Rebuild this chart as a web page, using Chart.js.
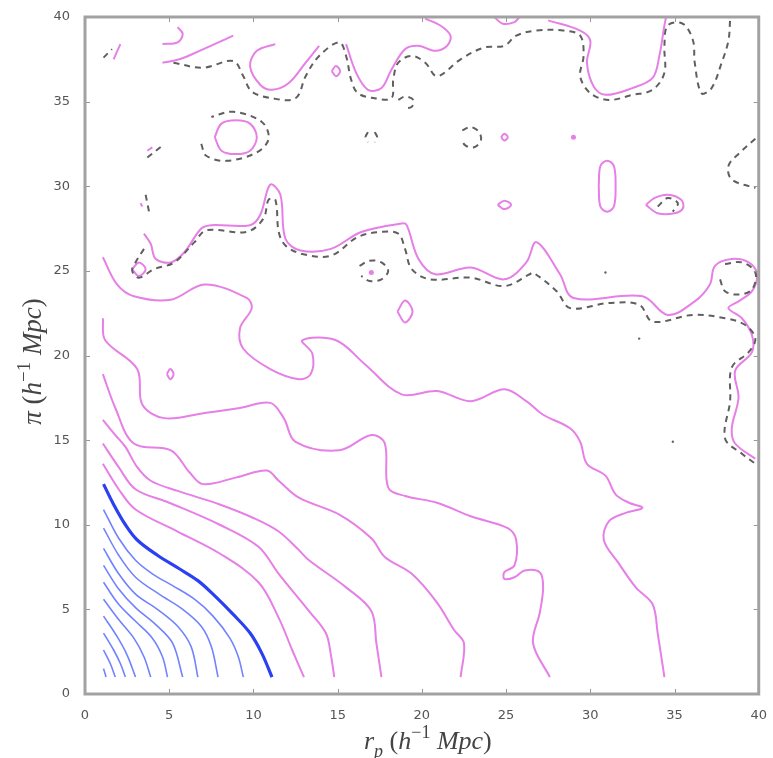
<!DOCTYPE html>
<html>
<head>
<meta charset="utf-8">
<script src="https://cdn.jsdelivr.net/npm/chart.js@4.4.1/dist/chart.umd.min.js"></script>
<style>
  html, body { margin: 0; padding: 0; background: #fff; }
  #wrap { width: 773px; height: 758px; }
</style>
</head>
<body>
<div id="wrap"><canvas id="contour"></canvas></div>
<script>
// axis ticks
const tickValues = [0, 5, 10, 15, 20, 25, 30, 35, 40];

// blue contours (inner levels), [r_p, pi]
const blueBold = [[1.1,12.4],[1.7,11.2],[2.4,10.0],[3.1,9.1],[4.3,8.2],[5.6,7.4],[6.7,6.7],[7.6,5.9],[8.8,4.7],[9.8,3.6],[10.5,2.4],[11.1,1.0]];
const blue2 = [[1.1,10.9],[2.0,9.2],[3.0,7.9],[4.0,7.1],[5.2,6.4],[6.5,5.6],[7.6,4.6],[8.6,3.3],[9.1,2.2],[9.4,1.0]];
const blue3 = [[1.1,9.8],[2.0,8.2],[3.0,6.9],[4.4,5.9],[5.8,5.0],[6.9,4.0],[7.5,2.8],[7.9,1.0]];
const blue4 = [[1.1,8.6],[2.0,7.1],[3.0,5.9],[4.3,5.0],[5.5,4.0],[6.3,2.8],[6.7,1.0]];
const blue5 = [[1.1,7.6],[2.0,6.2],[3.0,5.1],[4.2,4.1],[5.2,3.0],[5.8,1.0]];
const blue6 = [[1.1,6.6],[2.0,5.3],[3.0,4.3],[4.0,3.3],[4.6,2.2],[4.9,1.0]];
const blue7 = [[1.1,5.6],[2.0,4.4],[2.9,3.3],[3.5,2.2],[3.9,1.0]];
const blue8 = [[1.1,4.6],[1.9,3.4],[2.5,2.3],[3.0,1.0]];
const blue9 = [[1.1,3.6],[1.7,2.6],[2.1,1.8],[2.4,1.0]];
const blue10 = [[1.1,2.6],[1.5,1.8],[1.8,1.0]];
const blue11 = [[1.1,1.5],[1.25,1.0]];

// magenta contours
const magA = [[1.06,25.8],[1.9,24.2],[2.9,23.5],[5.1,23.3],[7.1,24.2],[9.6,23.4],[9.9,22.8],[9.2,21.6],[9.4,20.4],[11.0,19.2],[12.7,18.6],[13.4,18.9],[13.5,20.1],[12.9,20.9],[14.9,20.9],[16.6,19.5],[18.8,17.7],[20.9,17.9],[22.9,17.3],[24.9,18.0],[26.2,17.3],[27.2,16.5],[28.8,15.7],[29.4,14.9],[29.8,13.6],[30.9,12.9],[31.5,11.8],[32.3,11.3],[33.1,11.0],[32.1,10.7],[31.1,10.2],[30.8,9.1],[31.7,7.7],[32.7,6.3],[33.7,5.3],[34.0,3.6],[34.4,1.0]];
const magB = [[1.06,22.2],[1.2,20.9],[3.1,19.2],[3.4,17.1],[4.7,16.3],[7.1,16.6],[9.2,16.9],[11.0,17.2],[11.8,16.3],[12.5,14.9],[15.1,14.4],[17.0,15.3],[17.8,14.8],[18.0,12.2],[19.0,11.7],[20.9,11.3],[22.9,10.5],[25.1,9.8],[25.6,9.1],[25.5,7.6],[24.9,7.2],[24.9,6.8],[25.5,6.9],[26.1,7.3],[27.0,7.2],[27.2,6.3],[27.0,4.8],[26.6,3.0],[27.6,1.0]];
const magC = [[1.06,18.9],[1.8,16.9],[2.9,14.8],[5.1,14.4],[6.2,13.1],[7.0,12.4],[9.0,12.8],[10.8,13.2],[11.5,12.6],[12.7,11.6],[15.1,10.6],[17.0,9.2],[17.8,8.1],[19.4,7.1],[20.9,5.4],[21.9,3.8],[22.5,3.0],[22.3,1.0]];
const magD = [[1.06,16.2],[1.8,15.3],[2.4,14.6],[3.1,13.4],[3.9,12.6],[5.5,12.0],[8.0,11.2],[10.0,10.4],[11.5,9.6],[12.7,8.5],[13.3,7.9],[15.5,6.3],[17.0,4.9],[17.3,3.0],[17.6,1.0]];
const magE = [[1.06,14.8],[2.0,13.4],[3.0,12.1],[5.0,11.3],[8.0,10.0],[10.3,8.7],[11.5,7.1],[13.3,4.9],[14.3,3.6],[14.6,2.3],[14.8,1.0]];
const magF = [[1.06,13.6],[2.0,12.1],[3.0,10.9],[5.5,9.6],[8.0,8.3],[10.3,6.6],[11.5,4.5],[12.3,2.6],[13.0,1.0]];
const magRidge = [[3.5,27.2],[3.9,26.6],[4.2,25.7],[5.1,25.5],[5.9,26.1],[6.9,27.5],[7.5,27.7],[9.8,27.7],[10.4,28.3],[11.0,30.1],[11.6,29.5],[11.9,26.9],[12.8,26.2],[14.6,26.3],[16.4,27.3],[18.8,27.8],[19.1,27.7],[19.8,25.7],[20.8,24.8],[22.9,25.2],[24.9,24.5],[26.2,25.5],[26.8,26.7],[28.2,24.8],[29.0,23.4],[33.1,23.5],[34.6,22.4],[36.2,23.2],[37.1,24.2],[37.4,25.3],[38.4,25.7],[39.4,25.5],[39.9,24.8],[39.6,23.8],[38.8,23.2],[38.2,22.8],[39.0,22.2],[39.6,21.2],[39.6,20.2],[38.6,19.1],[38.8,17.5],[38.4,15.7],[38.6,14.8],[39.8,13.9]];
const magTopTick = [[1.7,37.5],[2.1,38.4]];
const magHook = [[4.6,38.4],[5.5,38.5],[5.8,39.0],[5.5,39.4]];
const magTop2 = [[4.6,37.3],[5.6,37.5],[6.8,38.0],[8.8,38.9]];
const magU1 = [[11.3,38.4],[10.2,38.0],[9.8,37.1],[10.4,36.0],[11.1,35.7],[12.1,36.1],[13.1,37.3],[13.9,38.3]];
const magU2 = [[15.5,38.4],[16.1,36.7],[16.8,35.7],[17.6,35.8],[18.2,36.9],[19.0,38.1],[19.8,38.3],[20.8,38.0],[21.5,38.3],[21.7,38.9],[21.1,39.5],[20.2,39.9]];
const magArc25 = [[24.3,40.0],[24.8,39.6],[25.5,39.7],[25.8,40.0]];
const magU3 = [[27.5,39.8],[29.4,39.2],[30.0,38.6],[29.8,37.3],[30.2,35.9],[30.9,35.4],[32.5,35.8],[33.7,36.4],[34.1,37.7],[34.4,39.5],[34.5,40.0]];
const magLoop15 = [[14.65,36.8],[14.9,37.1],[15.15,36.8],[14.9,36.5],[14.65,36.8]];
const magEll9 = [[7.7,32.9],[8.1,33.7],[8.95,33.9],[9.8,33.7],[10.2,32.9],[9.8,32.1],[8.95,31.9],[8.1,32.1],[7.7,32.9]];
const magCirc3 = [[2.8,25.1],[3.2,25.5],[3.6,25.1],[3.2,24.7],[2.8,25.1]];
const magLoop5 = [[4.86,18.9],[5.06,19.2],[5.26,18.9],[5.06,18.6],[4.86,18.9]];
const magOval19 = [[18.55,22.6],[19.0,23.25],[19.45,22.6],[19.0,21.95],[18.55,22.6]];
const magRing25 = [[24.7,32.9],[24.9,33.1],[25.1,32.9],[24.9,32.7],[24.7,32.9]];
const magVert31 = [[30.5,30.0],[30.6,31.2],[31.0,31.5],[31.4,31.2],[31.5,30.0],[31.4,28.8],[31.0,28.5],[30.6,28.8],[30.5,30.0]];
const magEgg34 = [[33.3,28.9],[33.8,29.3],[34.6,29.5],[35.4,29.2],[35.5,28.7],[35.0,28.4],[34.0,28.4],[33.3,28.9]];
const magSmall25 = [[24.5,28.9],[24.9,29.15],[25.3,28.9],[24.9,28.65],[24.5,28.9]];
const magTick32 = [[3.7,32.1],[4.0,32.3]];
const magTick29 = [[3.3,29.0],[3.4,28.8]];
const magDots = [[17.0,24.9],[29.0,32.9]];

// dashed grey contour (zero level)
const dashTop = [[5.25,37.3],[7.0,37.0],[8.8,37.4],[9.4,36.5],[9.9,35.6],[11.1,35.2],[12.5,35.2],[13.1,36.5],[13.9,37.7],[15.1,38.5],[15.5,37.7],[15.8,36.3],[16.2,35.5],[17.2,35.2],[18.2,35.2],[18.3,36.3],[18.6,37.3],[19.4,37.7],[20.2,37.3],[20.9,36.5],[22.3,37.5],[23.7,38.2],[24.9,38.3],[25.6,38.9],[26.8,39.2],[28.4,39.2],[29.4,38.9],[29.6,37.7],[29.4,36.5],[30.0,35.5],[31.1,35.1],[32.5,35.4],[33.7,35.7],[34.4,36.7],[34.4,38.3],[34.6,39.5],[35.5,39.6],[36.1,38.6],[36.2,37.3],[36.6,35.5],[37.2,35.8],[37.8,37.3],[38.2,38.6],[38.3,39.8]];
const dashRidge = [[3.5,26.3],[3.0,25.5],[2.8,25.0],[3.2,24.6],[4.1,25.1],[5.3,25.5],[6.5,26.7],[7.2,27.4],[9.6,27.3],[10.6,28.1],[10.9,29.2],[11.3,29.2],[11.5,27.3],[11.9,26.5],[12.9,26.0],[14.6,25.9],[16.2,27.0],[17.6,27.3],[18.6,27.2],[19.0,26.3],[19.4,25.1],[20.5,24.5],[22.9,24.6],[24.9,24.1],[26.4,24.8],[26.6,24.9],[28.0,23.8],[28.8,22.8],[31.1,23.1],[32.9,23.0],[33.7,22.0],[36.1,22.4],[38.0,22.2],[39.2,21.8],[39.8,21.0],[39.4,20.2],[38.4,19.3],[38.3,17.3],[38.0,15.1],[39.0,14.2],[39.8,13.6]];
const dashEll9 = [[6.9,32.5],[7.2,31.8],[8.4,31.5],[10.2,32.0],[10.9,32.8],[10.5,33.8],[8.8,34.4],[7.5,34.1]];
const dashTopLeft = [[1.1,37.6],[1.6,38.1]];
const dashLeft32 = [[3.7,31.7],[4.6,32.4]];
const dashLeft29 = [[3.6,29.5],[3.8,28.5]];
const dashLoop17 = [[16.3,25.3],[16.9,25.6],[17.6,25.5],[18.0,25.0],[17.6,24.5],[16.9,24.4],[16.4,24.7]];
const dashCirc23 = [[22.4,33.3],[22.9,33.5],[23.4,33.2],[23.5,32.7],[23.1,32.3],[22.6,32.4],[22.3,32.8]];
const dashLoop19 = [[18.6,35.1],[19.0,35.3],[19.5,35.1],[19.4,34.7],[18.9,34.6]];
const dashParenL = [[16.8,33.2],[16.65,32.9],[16.8,32.6]];
const dashParenR = [[17.2,33.2],[17.35,32.9],[17.2,32.6]];
const dashIn34 = [[34.0,28.8],[34.6,29.3],[35.2,29.0],[34.9,28.5]];
const dashRight32 = [[39.8,32.8],[38.9,32.0],[38.2,31.2],[38.4,30.4],[39.8,29.9]];
const dashCirc38 = [[38.0,25.4],[39.0,25.5],[39.8,24.9],[39.6,23.9],[38.8,23.6],[38.0,23.8],[37.7,24.5]];
const greySpecks = [[34.9,14.9],[32.9,21.0],[30.9,24.9]];

const MAGENTA = '#e67fe6';
const BLUE = '#7183ff';
const BLUE_BOLD = '#2b40f2';
const DASH = '#5f5f5f';

const blueThin = [blue2, blue3, blue4, blue5, blue6, blue7, blue8, blue9, blue10, blue11];
const magentaLines = [magA, magB, magC, magD, magE, magF, magRidge, magTopTick, magHook, magTop2,
  magU1, magU2, magArc25, magU3, magLoop15, magEll9, magCirc3, magLoop5, magOval19, magRing25,
  magVert31, magEgg34, magSmall25, magTick32, magTick29];
const dashedLines = [dashTop, dashRidge, dashEll9, dashTopLeft, dashLeft32, dashLeft29, dashLoop17,
  dashCirc23, dashLoop19, dashParenL, dashParenR, dashIn34, dashRight32, dashCirc38];

function toXY(arr) { return arr.map(p => ({ x: p[0], y: p[1] })); }
function contour(arr, color, width, dash) {
  return {
    data: toXY(arr), showLine: true, borderColor: color, borderWidth: width,
    borderDash: dash || [], pointRadius: 0, tension: 0.35, fill: false
  };
}

const datasets = [];
dashedLines.forEach(d => datasets.push(contour(d, DASH, 2, [6, 5])));
magentaLines.forEach(d => datasets.push(contour(d, MAGENTA, 2)));
blueThin.forEach(d => datasets.push(contour(d, BLUE, 1.6)));
datasets.push(contour(blueBold, BLUE_BOLD, 3.2));
datasets.push({ data: toXY(magDots), showLine: false, pointRadius: 2.5, pointBackgroundColor: MAGENTA, pointBorderWidth: 0 });
datasets.push({ data: toXY(greySpecks), showLine: false, pointRadius: 1.2, pointBackgroundColor: '#666', pointBorderWidth: 0 });

// math-style axis labels with sub/superscripts
function drawMath(ctx, parts, size) {
  const fam = '"Liberation Serif", "DejaVu Serif", serif';
  const fontFor = p => (p.it ? 'italic ' : '') + Math.round(p.sm ? size * 0.7 : size) + 'px ' + fam;
  let w = 0;
  parts.forEach(p => { ctx.font = fontFor(p); w += ctx.measureText(p.t).width; });
  let x = -w / 2;
  ctx.textBaseline = 'alphabetic';
  ctx.textAlign = 'left';
  parts.forEach(p => {
    ctx.font = fontFor(p);
    ctx.fillText(p.t, x, p.dy ? p.dy * size : 0);
    x += ctx.measureText(p.t).width;
  });
}
const xTitle = [{t:'r',it:1},{t:'p',it:1,sm:1,dy:0.3},{t:' ('},{t:'h',it:1},{t:'\u22121',sm:1,dy:-0.42},{t:' '},{t:'Mpc',it:1},{t:')'}];
const yTitle = [{t:'\u03c0',it:1},{t:' ('},{t:'h',it:1},{t:'\u22121',sm:1,dy:-0.42},{t:' '},{t:'Mpc',it:1},{t:')'}];

const framePlugin = {
  id: 'frame',
  afterDraw(chart) {
    const { ctx, chartArea: a, scales: { x, y } } = chart;
    ctx.save();
    ctx.strokeStyle = '#999';
    ctx.lineWidth = 1;
    tickValues.forEach(v => {
      const px = Math.round(x.getPixelForValue(v)) + 0.5;
      const py = Math.round(y.getPixelForValue(v)) + 0.5;
      ctx.beginPath();
      ctx.moveTo(px, a.bottom); ctx.lineTo(px, a.bottom - 5);
      ctx.moveTo(px, a.top); ctx.lineTo(px, a.top + 5);
      ctx.moveTo(a.left, py); ctx.lineTo(a.left + 5, py);
      ctx.moveTo(a.right, py); ctx.lineTo(a.right - 5, py);
      ctx.stroke();
    });
    ctx.strokeStyle = '#a2a2a2';
    ctx.lineWidth = 3;
    ctx.strokeRect(a.left, a.top, a.right - a.left, a.bottom - a.top);
    ctx.fillStyle = '#444';
    ctx.save();
    ctx.translate((a.left + a.right) / 2 + 6, 749);
    drawMath(ctx, xTitle, 26);
    ctx.restore();
    ctx.save();
    ctx.translate(41, (a.top + a.bottom) / 2 + 6);
    ctx.rotate(-Math.PI / 2);
    drawMath(ctx, yTitle, 27);
    ctx.restore();
    ctx.restore();
  }
};

const tickFont = { family: '"DejaVu Sans", sans-serif', size: 13 };

new Chart(document.getElementById('contour'), {
  type: 'scatter',
  data: { datasets },
  options: {
    responsive: true,
    maintainAspectRatio: false,
    animation: false,
    layout: { padding: { top: 17, right: 11, left: 0, bottom: 0 } },
    plugins: { legend: { display: false }, tooltip: { enabled: false } },
    scales: {
      x: {
        type: 'linear', min: 0, max: 40,
        grid: { display: false }, border: { display: false },
        ticks: { stepSize: 5, padding: 6, color: '#555', font: tickFont, maxRotation: 0 },
        afterFit: s => { s.height = 64; }
      },
      y: {
        type: 'linear', min: 0, max: 40,
        grid: { display: false }, border: { display: false },
        ticks: { stepSize: 5, padding: 7, color: '#555', font: tickFont },
        afterFit: s => { s.width = 85; }
      }
    }
  },
  plugins: [framePlugin]
});
</script>
</body>
</html>
